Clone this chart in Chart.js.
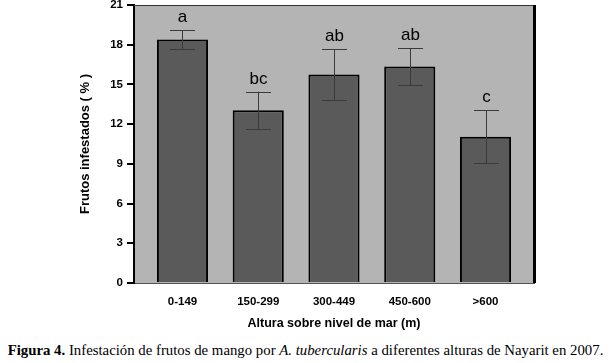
<!DOCTYPE html>
<html>
<head>
<meta charset="utf-8">
<script src="https://cdn.jsdelivr.net/npm/chart.js@4.4.1/dist/chart.umd.min.js"></script>
<style>
  html, body { margin: 0; padding: 0; background: #fff; }
  #wrap { position: relative; width: 611px; height: 363px; overflow: hidden; }
  #chart { position: absolute; left: 0; top: 0; }
  #caption {
    position: absolute; left: 0; top: 342px; width: 611px;
    font-family: "Liberation Serif", "Times New Roman", serif;
    font-size: 14.8px; color: #000; white-space: nowrap; text-align: center;
  }
</style>
</head>
<body>
<div id="wrap">
  <canvas id="chart" width="611" height="335"></canvas>
  <div id="caption"><b>Figura 4.</b> Infestación de frutos de mango por <i>A. tubercularis</i> a diferentes alturas de Nayarit en 2007.</div>
</div>
<script>
// data
var altitudes = ["0-149", "150-299", "300-449", "450-600", ">600"];
var infested = [18.4, 13.05, 15.75, 16.35, 11.05];
var errors = [0.7, 1.4, 1.9, 1.4, 2.0];
var letters = ["a", "bc", "ab", "ab", "c"];
var yTicks = [0, 3, 6, 9, 12, 15, 18, 21];

// grey panel behind the bars
var panelBg = {
  id: 'panelBg',
  beforeDraw: function(chart) {
    var a = chart.chartArea, ctx = chart.ctx;
    ctx.save();
    ctx.fillStyle = '#b4b4b4';
    ctx.fillRect(a.left, a.top, a.right - a.left, a.bottom - a.top);
    ctx.restore();
  },
  afterDraw: function(chart) {
    var a = chart.chartArea, ctx = chart.ctx;
    ctx.save();
    // top border
    ctx.strokeStyle = '#333';
    ctx.lineWidth = 1;
    ctx.beginPath();
    ctx.moveTo(a.left, a.top + 0.5);
    ctx.lineTo(a.right, a.top + 0.5);
    ctx.stroke();
    // right border, thicker
    ctx.strokeStyle = '#000';
    ctx.lineWidth = 3;
    ctx.beginPath();
    ctx.moveTo(a.right + 0.5, a.top);
    ctx.lineTo(a.right + 0.5, a.bottom);
    ctx.stroke();
    ctx.restore();
  }
};

// error bars + significance letters
var errorBars = {
  id: 'errorBars',
  afterDatasetsDraw: function(chart) {
    var ctx = chart.ctx;
    var y = chart.scales.y;
    var meta = chart.getDatasetMeta(0);
    ctx.save();
    meta.data.forEach(function(bar, i) {
      var x = Math.round(bar.x) + 0.5;
      var top = y.getPixelForValue(infested[i] + errors[i]);
      var bot = y.getPixelForValue(infested[i] - errors[i]);
      ctx.strokeStyle = '#3a3a3a';
      ctx.lineWidth = 1;
      ctx.beginPath();
      ctx.moveTo(x, top); ctx.lineTo(x, bot);
      ctx.moveTo(x - 12.5, Math.round(top) + 0.5); ctx.lineTo(x + 12.5, Math.round(top) + 0.5);
      ctx.moveTo(x - 12.5, Math.round(bot) + 0.5); ctx.lineTo(x + 12.5, Math.round(bot) + 0.5);
      ctx.stroke();
      ctx.fillStyle = '#000';
      ctx.font = '17px "Liberation Sans", Arial, sans-serif';
      ctx.textAlign = 'center';
      ctx.textBaseline = 'alphabetic';
      ctx.fillText(letters[i], x, top - 8);
    });
    ctx.restore();
  }
};

var ctx = document.getElementById('chart').getContext('2d');
var chart = new Chart(ctx, {
  type: 'bar',
  data: {
    datasets: [{
      data: infested.map(function(v, i) { return { x: i, y: v }; }),
      backgroundColor: '#5a5a5a',
      borderColor: '#000',
      borderWidth: 2,
      categoryPercentage: 1,
      barPercentage: 0.675
    }]
  },
  options: {
    responsive: false,
    animation: false,
    layout: { padding: { left: 78, right: 77, top: 5, bottom: 4 } },
    plugins: {
      legend: { display: false },
      tooltip: { enabled: false }
    },
    scales: {
      x: {
        type: 'linear',
        min: -0.64,
        max: 4.64,
        offset: false,
        afterBuildTicks: function(scale) {
          scale.ticks = altitudes.map(function(l, i) { return { value: i }; });
        },
        grid: { display: false, drawTicks: false },
        border: { display: true, color: '#555', width: 1 },
        ticks: {
          color: '#000',
          padding: 12,
          autoSkip: false,
          maxRotation: 0,
          callback: function(v) { return altitudes[v]; },
          font: { family: '"Liberation Sans", Arial, sans-serif', size: 11.5, weight: 'bold' }
        },
        title: {
          display: true,
          text: 'Altura sobre nivel de mar (m)',
          color: '#000',
          padding: { top: 3, bottom: 0 },
          font: { family: '"Liberation Sans", Arial, sans-serif', size: 12.5, weight: 'bold' }
        },
        afterFit: function(scale) { scale.height = 48; }
      },
      y: {
        min: 0,
        max: 21,
        afterBuildTicks: function(scale) {
          scale.ticks = yTicks.map(function(v) { return { value: v }; });
        },
        grid: { display: true, drawOnChartArea: false, drawTicks: true, tickLength: 7, color: '#000', lineWidth: 2 },
        border: { display: true, color: '#000', width: 2 },
        ticks: {
          color: '#000',
          padding: 4,
          font: { family: '"Liberation Sans", Arial, sans-serif', size: 11.5, weight: 'bold' }
        },
        title: {
          display: true,
          text: 'Frutos infestados ( % )',
          color: '#000',
          padding: { top: 0, bottom: 0 },
          font: { family: '"Liberation Sans", Arial, sans-serif', size: 13, weight: 'bold' }
        },
        afterFit: function(scale) { scale.width = 56; scale.paddingTop = 0; }
      }
    }
  },
  plugins: [panelBg, errorBars]
});
</script>
</body>
</html>
